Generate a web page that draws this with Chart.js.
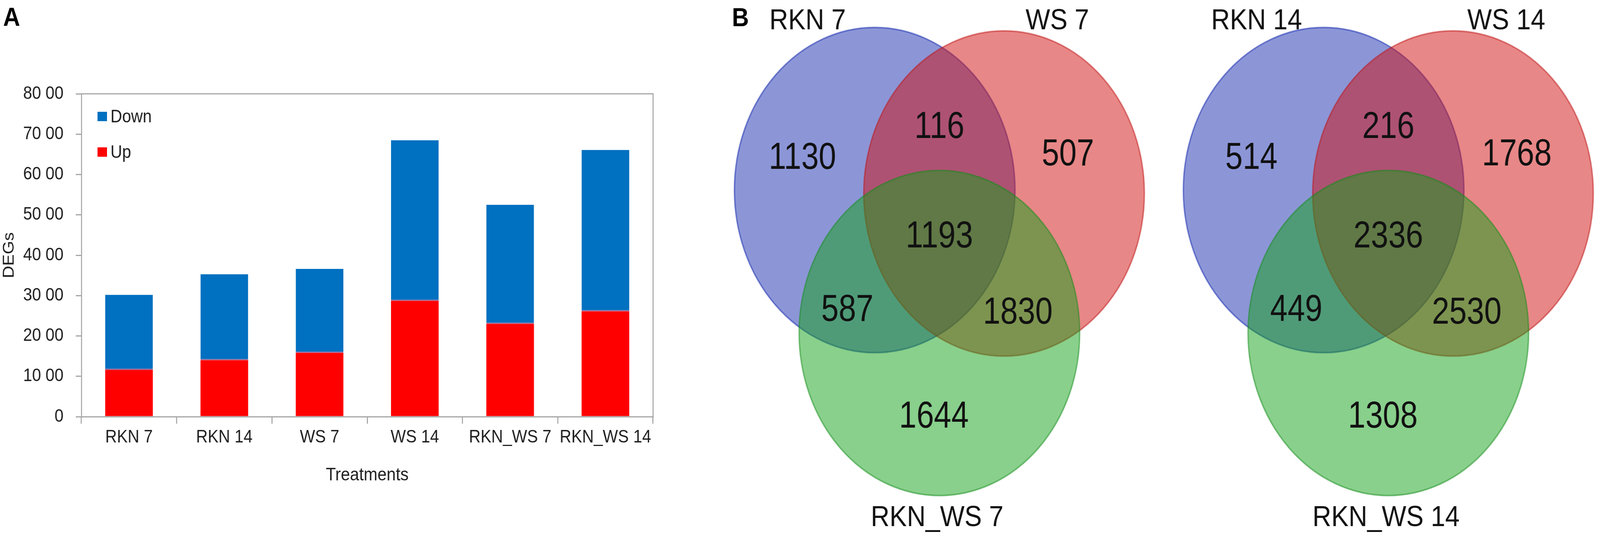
<!DOCTYPE html>
<html>
<head>
<meta charset="utf-8">
<title>DEGs by treatment and Venn overlaps</title>
<script src="https://cdn.jsdelivr.net/npm/chart.js@4.4.1/dist/chart.umd.min.js"></script>
<style>
  html, body { margin: 0; padding: 0; background: #fff; overflow: hidden; }
  #page { position: relative; width: 4562px; height: 1379px; overflow: hidden; background: #fff; transform-origin: 0 0; }
  #page canvas { position: absolute; top: 0; }
  .panel-label { position: absolute; font: bold 67px "Liberation Sans", Arial, sans-serif; line-height: 1; color: #000; }
</style>
</head>
<body>
<div id="page">
  <canvas id="barChart" width="1950" height="1379" style="left:0"></canvas>
  <canvas id="vennDay7" width="1240" height="1379" style="left:2040px"></canvas>
  <canvas id="vennDay14" width="1240" height="1379" style="left:3320px"></canvas>
  <div class="panel-label" style="left:9px;top:9px">A</div>
  <div class="panel-label" style="left:2087px;top:10px">B</div>
</div>
<script>
// Panel A - stacked DEG counts
const treatments = ['RKN 7', 'RKN 14', 'WS 7', 'WS 14', 'RKN_WS 7', 'RKN_WS 14'];
const upDEGs = [1160, 1400, 1580, 2870, 2300, 2610];
const downDEGs = [1860, 2130, 2080, 3980, 2950, 4000];
const degTickLabels = ['0', '10 00', '20 00', '30 00', '40 00', '50 00', '60 00', '70 00', '80 00'];

// Panel B - Venn region counts, order: A only, B only, C only, AB, AC, BC, ABC
const day7Sets = ['RKN 7', 'WS 7', 'RKN_WS 7'];
const day7Counts = [1130, 507, 1644, 116, 587, 1830, 1193];
const day14Sets = ['RKN 14', 'WS 14', 'RKN_WS 14'];
const day14Counts = [514, 1768, 1308, 216, 449, 2530, 2336];

const axisGray = '#a6a6a6';
const textColor = '#1e1e1e';
const fontFamily = '"Liberation Sans", Arial, Helvetica, sans-serif';
Chart.defaults.font.family = fontFamily;
Chart.defaults.color = textColor;

// stretch the 4562 x 1379 figure onto whatever viewport we actually get
const page = document.getElementById('page');
const fitX = Math.min(1, window.innerWidth / 4562);
const fitY = Math.min(1, window.innerHeight / 1379);
if (fitX < 1 || fitY < 1) {
    page.style.transform = 'scale(' + fitX + ',' + fitY + ')';
}

// draws the top and right edge of the plot box (Excel style frame)
const plotFrame = {
    id: 'plotFrame',
    beforeDatasetsDraw(chart, args, opts) {
        const { ctx, chartArea } = chart;
        ctx.save();
        ctx.strokeStyle = opts.color;
        ctx.lineWidth = opts.width;
        ctx.beginPath();
        ctx.moveTo(chartArea.left, chartArea.top);
        ctx.lineTo(chartArea.right, chartArea.top);
        ctx.lineTo(chartArea.right, chartArea.bottom);
        ctx.stroke();
        ctx.restore();
    }
};

// legend inside the plot box, top-left, last dataset first
const insideLegend = {
    id: 'insideLegend',
    afterDatasetsDraw(chart, args, opts) {
        const { ctx, chartArea } = chart;
        const items = chart.data.datasets.slice().reverse();
        ctx.save();
        ctx.font = opts.fontSize + 'px ' + fontFamily;
        ctx.textBaseline = 'middle';
        ctx.textAlign = 'left';
        items.forEach((ds, i) => {
            const x = chartArea.left + opts.left;
            const cy = chartArea.top + opts.top + i * opts.rowGap;
            ctx.fillStyle = ds.backgroundColor;
            ctx.fillRect(x, cy - opts.boxHeight / 2, opts.boxWidth, opts.boxHeight);
            ctx.fillStyle = textColor;
            ctx.fillText(ds.label, x + opts.boxWidth + opts.gap, cy + 2);
        });
        ctx.restore();
    }
};

new Chart(document.getElementById('barChart'), {
    type: 'bar',
    data: {
        labels: treatments,
        datasets: [
            { label: 'Up', data: upDEGs, backgroundColor: '#ff0000', borderWidth: 0, barPercentage: 0.5, categoryPercentage: 1 },
            {
                label: 'Down',
                data: downDEGs,
                backgroundColor: '#0070c0',
                borderColor: 'rgba(120,50,120,0.75)',
                borderWidth: { top: 0, left: 0, right: 0, bottom: 3 },
                borderSkipped: false,
                barPercentage: 0.5,
                categoryPercentage: 1
            }
        ]
    },
    options: {
        responsive: false,
        animation: false,
        events: [],
        layout: { padding: { left: 0, top: 240, right: 88, bottom: 135 } },
        scales: {
            x: {
                stacked: true,
                afterFit: (scale) => { scale.height = 178; },
                border: { display: true, color: axisGray, width: 3 },
                grid: { drawOnChartArea: false, drawTicks: true, tickLength: 18, color: axisGray, lineWidth: 3, offset: true },
                ticks: { font: { size: 46 }, color: textColor, padding: 8, autoSkip: false, maxRotation: 0 },
                title: { display: true, text: 'Treatments', font: { size: 47 }, color: textColor, padding: 0 }
            },
            y: {
                stacked: true,
                min: 0,
                max: 8000,
                afterFit: (scale) => { scale.width = 232; },
                border: { display: true, color: axisGray, width: 3 },
                grid: { drawOnChartArea: false, drawTicks: true, tickLength: 16, color: axisGray, lineWidth: 3 },
                ticks: {
                    stepSize: 1000,
                    font: { size: 46 },
                    color: textColor,
                    padding: 35,
                    callback: (value, index) => degTickLabels[index]
                },
                title: { display: true, text: 'DEGs', font: { size: 44 }, color: textColor, padding: 0 }
            }
        },
        plugins: {
            legend: { display: false },
            tooltip: { enabled: false },
            plotFrame: { color: axisGray, width: 3 },
            insideLegend: { fontSize: 46, left: 46, top: 58, rowGap: 91, boxWidth: 27, boxHeight: 24, gap: 10 }
        }
    },
    plugins: [plotFrame, insideLegend]
});

// Venn layout in circle-radius units, same for both diagrams
const vennRadius = 1;
const vennCenters = [{ x: -0.461, y: 0.300 }, { x: 0.461, y: 0.279 }, { x: 0, y: -0.579 }];
const vennCountSpots = [
    { x: -0.976, y: 0.514 }, { x: 0.916, y: 0.534 }, { x: -0.039, y: -1.079 },
    { x: 0, y: 0.702 }, { x: -0.656, y: -0.423 }, { x: 0.559, y: -0.440 }, { x: 0, y: 0.031 }
];
const vennNameSpots = [{ x: -0.939, y: 1.353 }, { x: 0.841, y: 1.353 }, { x: -0.016, y: -1.704 }];
const vennFills = ['rgba(25,45,175,0.5)', 'rgba(209,15,15,0.5)', 'rgba(19,161,25,0.5)'];
const vennEdges = ['rgba(25,45,175,0.55)', 'rgba(190,15,15,0.5)', 'rgba(19,140,25,0.5)'];

function drawVennText(ctx, text, px, py, size, squeeze) {
    ctx.save();
    ctx.translate(px, py);
    ctx.scale(squeeze, 1);
    ctx.font = size + 'px ' + fontFamily;
    ctx.fillStyle = '#111';
    ctx.textAlign = 'center';
    ctx.textBaseline = 'alphabetic';
    // put the cap height centre on the anchor point
    ctx.fillText(text, 0, size * 0.358);
    ctx.restore();
}

const vennPlugin = {
    id: 'venn',
    beforeDatasetsDraw(chart) {
        const { ctx } = chart;
        const xs = chart.scales.x;
        const ys = chart.scales.y;
        chart.data.datasets.forEach((ds) => {
            const c = ds.data[0];
            const px = xs.getPixelForValue(c.x);
            const py = ys.getPixelForValue(c.y);
            const rx = Math.abs(xs.getPixelForValue(c.x + vennRadius) - px);
            const ry = Math.abs(ys.getPixelForValue(c.y + vennRadius) - py);
            ctx.save();
            ctx.beginPath();
            ctx.ellipse(px, py, rx, ry, 0, 0, Math.PI * 2);
            ctx.fillStyle = ds.backgroundColor;
            ctx.fill();
            ctx.lineWidth = 4;
            ctx.strokeStyle = ds.borderColor;
            ctx.stroke();
            ctx.restore();
        });
    },
    afterDatasetsDraw(chart, args, opts) {
        const { ctx } = chart;
        const xs = chart.scales.x;
        const ys = chart.scales.y;
        Array.from(opts.counts).forEach((n, i) => {
            const spot = vennCountSpots[i];
            drawVennText(ctx, String(n), xs.getPixelForValue(spot.x), ys.getPixelForValue(spot.y), 96, 0.93);
        });
        chart.data.datasets.forEach((ds, i) => {
            const spot = vennNameSpots[i];
            drawVennText(ctx, ds.label, xs.getPixelForValue(spot.x), ys.getPixelForValue(spot.y), 74, 1);
        });
    }
};

function makeVenn(canvasId, setNames, counts) {
    return new Chart(document.getElementById(canvasId), {
        type: 'scatter',
        data: {
            datasets: setNames.map((name, i) => ({
                label: name,
                data: [vennCenters[i]],
                backgroundColor: vennFills[i],
                borderColor: vennEdges[i],
                pointRadius: 0
            }))
        },
        options: {
            responsive: false,
            animation: false,
            events: [],
            layout: { padding: 0 },
            scales: {
                x: { type: 'linear', min: -1.596, max: 1.504, display: false },
                y: { type: 'linear', min: -1.846, max: 1.469, display: false }
            },
            plugins: {
                legend: { display: false },
                tooltip: { enabled: false },
                venn: { counts: counts }
            }
        },
        plugins: [vennPlugin]
    });
}

makeVenn('vennDay7', day7Sets, day7Counts);
makeVenn('vennDay14', day14Sets, day14Counts);
</script>
</body>
</html>
